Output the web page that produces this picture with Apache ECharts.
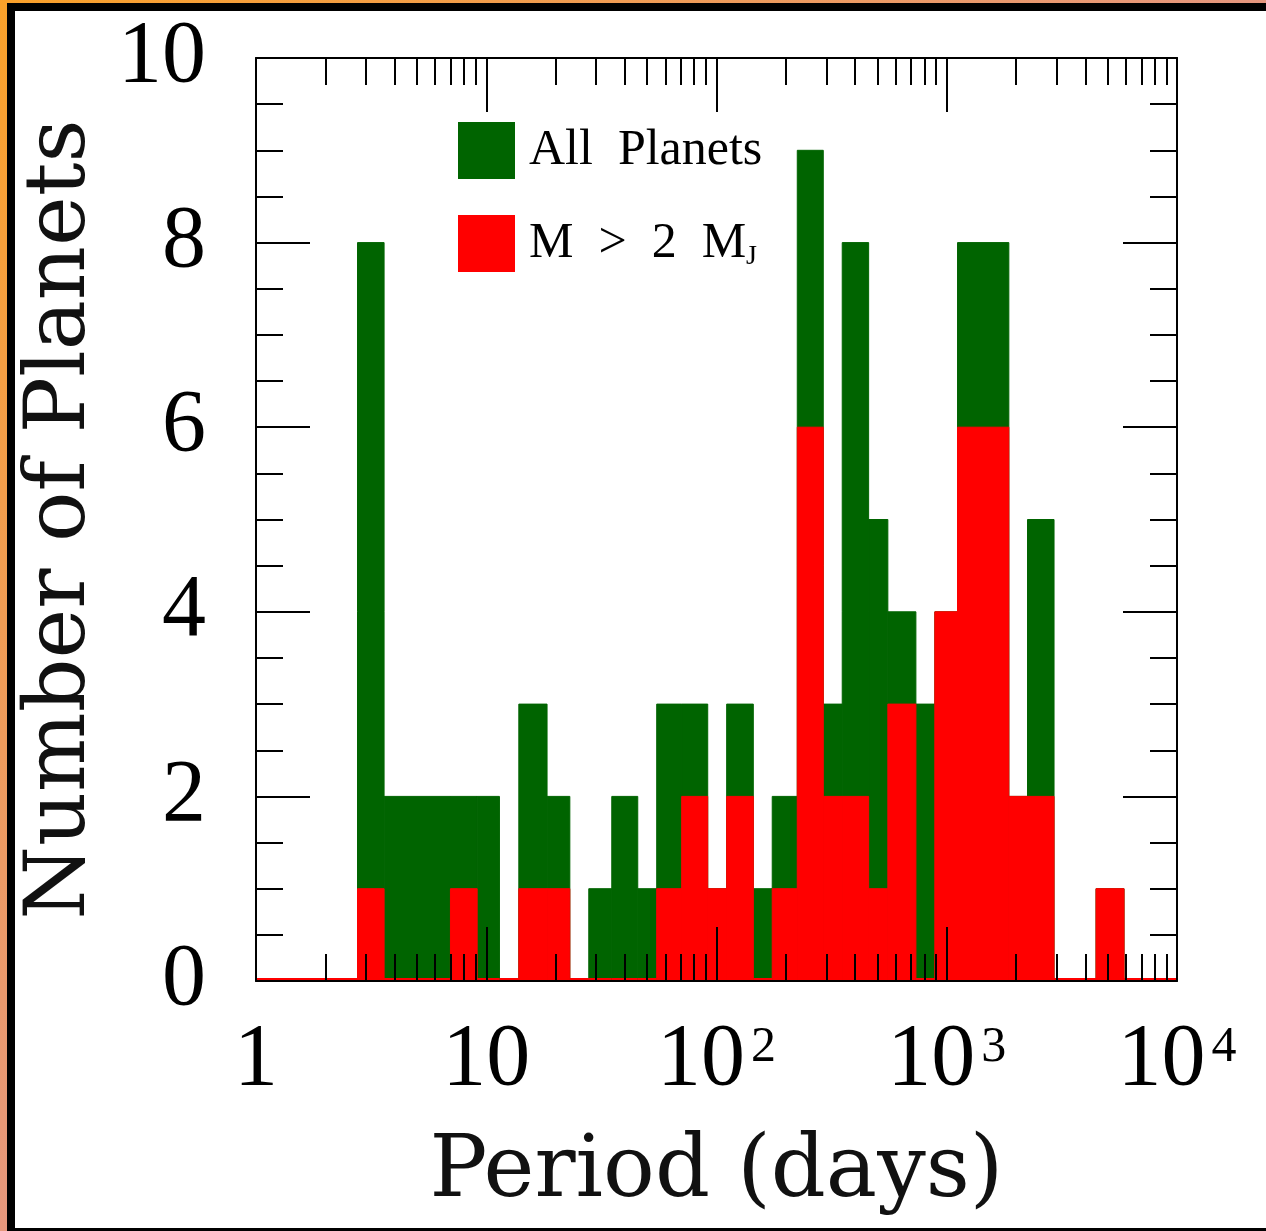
<!DOCTYPE html>
<html>
<head>
<meta charset="utf-8">
<script src="https://cdn.jsdelivr.net/npm/echarts@6/dist/echarts.min.js"></script>
<style>
    body{margin:0;}
    #edge{position:absolute;left:0;top:0;width:1266px;height:1231px;background:linear-gradient(135deg,#faa12a 0%,#e6977e 50%,#cc8ea8 100%);}
    #frame{position:absolute;left:7px;top:3px;width:1259px;height:1228px;background:#000;}
    #paper{position:absolute;left:15px;top:11px;width:1251px;height:1217px;background:#fff;}
    #chart{position:absolute;left:0;top:0;width:1266px;height:1231px;}
</style>
</head>
<body>
<div id="edge"></div>
<div id="frame"></div>
<div id="paper"></div>
<div id="chart"></div>
<script>
// bin edges (period in days)
let binEdges=[1,2.76,3.60,6.99,9.13,11.41,13.85,18.37,23.07,27.88,35.09,45.5,55.0,70.6,91.6,110.7,144.5,174.6,224.3,290.9,351.6,457.9,554.9,734.5,887.7,1114,1861,2243,2924,4449,5888,10000];
// number of planets per bin
let allPlanets=[0,8,2,2,2,0,3,2,0,1,2,1,3,3,1,3,1,2,9,3,8,5,4,3,4,8,2,5,0,1,0];
let massive=[0,1,0,1,0,0,1,1,0,0,0,0,1,2,1,2,0,1,6,2,2,1,3,0,4,6,2,2,0,1,0];
// axis ticks
let decadeTicks=[0,1,2,3,4];
let minorFactors=[2,3,4,5,6,7,8,9];

let serif="'DejaVu Serif', serif";
let times="'Liberation Serif', serif";

function toBins(counts){
    let out=[];
    for(let i=0;i<counts.length;i++){
        out.push([Math.log10(binEdges[i]),Math.log10(binEdges[i+1]),counts[i]]);
    }
    return out;
}

let minorX=[];
for(let d=0;d<decadeTicks.length-1;d++){
    for(let m of minorFactors){
        minorX.push(Math.log10(m*Math.pow(10,decadeTicks[d])));
    }
}

function drawBin(params,api){
    let lo=api.value(0),hi=api.value(1),n=api.value(2);
    let p0=api.coord([lo,0]);
    let p1=api.coord([hi,n]);
    let color=api.visual('color');
    if(n===0){
        if(params.seriesIndex===0) return;
        return {type:'rect',shape:{x:p0[0],y:p0[1]-3,width:p1[0]-p0[0],height:2},style:{fill:color}};
    }
    return {type:'rect',shape:{x:p0[0],y:p1[1],width:p1[0]-p0[0],height:p0[1]-p1[1]},
        style:{fill:color,stroke:color,lineWidth:1}};
}

function xAxisCfg(pos,major){
    return {
        type:'value',position:pos,min:0,max:4,
        interval:major?1:undefined,
        z:10,
        axisLine:{show:major,onZero:false,lineStyle:{color:'#000',width:2}},
        axisTick:major?{inside:true,length:54,lineStyle:{color:'#000',width:2}}
                      :{inside:true,length:27,customValues:minorX,lineStyle:{color:'#000',width:2}},
        axisLabel:{show:false},
        splitLine:{show:false}
    };
}
function yAxisCfg(pos,major){
    return {
        type:'value',position:pos,min:0,max:10,
        interval:major?2:0.5,
        z:10,
        axisLine:{show:major,onZero:false,lineStyle:{color:'#000',width:2}},
        axisTick:{inside:true,length:major?54:27,lineStyle:{color:'#000',width:2}},
        axisLabel:{show:false},
        splitLine:{show:false}
    };
}

let xMain=xAxisCfg('bottom',true);
xMain.axisLabel={
    show:true,margin:36,color:'#000',
    fontFamily:times,fontSize:88,
    formatter:function(v){
        if(v===0) return '{b|1}';
        if(v===1) return '{b|10}';
        return '{b|10}{s|'+v+'}';
    },
    rich:{
        b:{fontFamily:times,fontSize:88,color:'#000',lineHeight:88},
        s:{fontFamily:times,fontSize:50,color:'#000',verticalAlign:'top',lineHeight:50,padding:[6,0,0,6]}
    }
};
xMain.name='Period (days)';
xMain.nameLocation='middle';
xMain.nameGap=150;
xMain.nameTextStyle={fontFamily:serif,fontSize:86,color:'#111'};

let yMain=yAxisCfg('left',true);
yMain.axisLabel={show:true,margin:50,color:'#000',fontFamily:times,fontSize:88};
yMain.name='Number of Planets';
yMain.nameLocation='middle';
yMain.nameRotate=90;
yMain.nameGap=152;
yMain.nameTextStyle={fontFamily:serif,fontSize:84,color:'#111'};

let myChart=echarts.init(document.getElementById('chart'));
let option={
    animation:false,
    backgroundColor:'transparent',
    grid:{left:256,top:58,right:89,bottom:250,outerBoundsMode:'none',containLabel:false},
    legend:{
        orient:'vertical',left:458,top:122,padding:0,
        itemWidth:57,itemHeight:57,itemGap:36,
        icon:'rect',
        data:['All Planets','M > 2 MJ'],
        formatter:function(name){
            if(name==='All Planets') return '{t|All  Planets}';
            return '{t|M  >  2  M}{j|J}';
        },
        textStyle:{
            padding:[0,0,0,9],
            rich:{
                t:{fontFamily:times,fontSize:50,color:'#000'},
                j:{fontFamily:times,fontSize:28,color:'#000',verticalAlign:'bottom',padding:[26,0,0,0]}
            }
        }
    },
    xAxis:[xMain,xAxisCfg('bottom',false),xAxisCfg('top',true),xAxisCfg('top',false)],
    yAxis:[yMain,yAxisCfg('left',false),yAxisCfg('right',true),yAxisCfg('right',false)],
    series:[
        {
            name:'All Planets',type:'custom',
            xAxisIndex:0,yAxisIndex:0,
            itemStyle:{color:'#006400'},
            encode:{x:[0,1],y:2},
            renderItem:drawBin,
            data:toBins(allPlanets)
        },
        {
            name:'M > 2 MJ',type:'custom',
            xAxisIndex:0,yAxisIndex:0,
            itemStyle:{color:'#ff0000'},
            encode:{x:[0,1],y:2},
            renderItem:drawBin,
            data:toBins(massive)
        }
    ]
};
myChart.setOption(option);
</script>
</body>
</html>
